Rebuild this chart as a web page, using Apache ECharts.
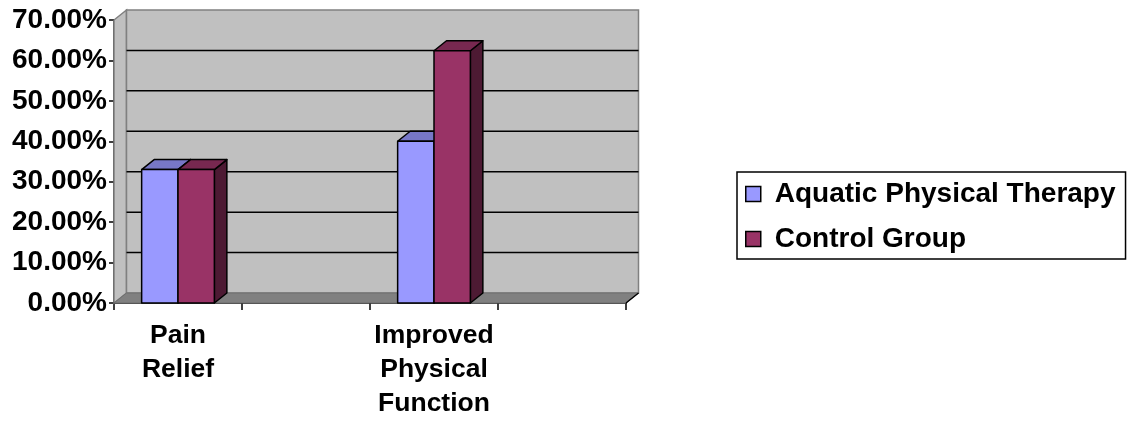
<!DOCTYPE html>
<html>
<head>
<meta charset="utf-8">
<style>
  html, body { margin: 0; padding: 0; background: #ffffff; }
  #chart { width: 1134px; height: 421px; }
</style>
<script src="https://cdn.jsdelivr.net/npm/echarts@6/dist/echarts.min.js"></script>
</head>
<body>
<div id="chart"></div>
<script>
// Categories (blank slots keep the spacing of the original worksheet)
const categories = ['Pain Relief', '', 'Improved Physical Function', ''];
const seriesNames = ['Aquatic Physical Therapy', 'Control Group'];
const aquatic = [0.33, '-', 0.40, '-'];
const control = [0.33, '-', 0.624, '-'];
const gridValues = [0.1, 0.2, 0.3, 0.4, 0.5, 0.6];

const FONT = '"Liberation Sans", Arial, sans-serif';
const DX = 12.5;   // depth offset to the right
const DY = 10;     // depth offset upward
const BAR_FRAC = 0.284;

const faces = [
  { front: '#9999FF', top: '#7777C7', side: '#4D4D80' },
  { front: '#993366', top: '#772850', side: '#4D1A33' }
];

function walls(params, api) {
  const cs = params.coordSys;
  const x0 = cs.x, x1 = cs.x + cs.width, y0 = cs.y, y1 = cs.y + cs.height;
  const children = [
    { type: 'polygon', shape: { points: [[x0, y0], [x0 + DX, y0 - DY], [x0 + DX, y1 - DY], [x0, y1]] },
      style: { fill: '#C0C0C0', stroke: '#808080', lineWidth: 1.5 } },
    { type: 'rect', shape: { x: x0 + DX, y: y0 - DY, width: cs.width, height: cs.height },
      style: { fill: '#C0C0C0', stroke: '#808080', lineWidth: 1.5 } },
    { type: 'polygon', shape: { points: [[x0, y1], [x0 + DX, y1 - DY], [x1 + DX, y1 - DY], [x1, y1]] },
      style: { fill: '#808080', stroke: '#6e6e6e', lineWidth: 1 } }
  ];
  gridValues.forEach(function (v) {
    const y = api.coord([0, v])[1] - DY;
    children.push({ type: 'line', shape: { x1: x0 + DX, y1: y, x2: x1 + DX, y2: y },
      style: { stroke: '#000', lineWidth: 1.5 } });
  });
  children.push({ type: 'line', shape: { x1: x1, y1: y1, x2: x1 + DX, y2: y1 - DY },
    style: { stroke: '#000', lineWidth: 1.5 } });
  return { type: 'group', children: children };
}

function makeBar(seriesIdx) {
  return function (params, api) {
    const val = api.value(1);
    if (isNaN(val)) return null;
    const idx = api.value(0);
    const base = api.coord([idx, 0]);
    const top = api.coord([idx, val]);
    const bw = api.size([1, 0])[0] * BAR_FRAC;
    const xl = base[0] - bw + seriesIdx * bw;
    const xr = xl + bw;
    const yt = top[1], yb = base[1];
    const f = faces[seriesIdx];
    const st = { stroke: '#000', lineWidth: 1.5, lineJoin: 'round' };
    return {
      type: 'group',
      children: [
        { type: 'polygon', shape: { points: [[xr, yt], [xr + DX, yt - DY], [xr + DX, yb - DY], [xr, yb]] },
          style: Object.assign({ fill: f.side }, st) },
        { type: 'polygon', shape: { points: [[xl, yt], [xl + DX, yt - DY], [xr + DX, yt - DY], [xr, yt]] },
          style: Object.assign({ fill: f.top }, st) },
        { type: 'rect', shape: { x: xl, y: yt, width: bw, height: yb - yt },
          style: Object.assign({ fill: f.front }, st) }
      ]
    };
  };
}

function toData(arr) {
  return arr.map(function (v, i) { return [i, v]; });
}

const chart = echarts.init(document.getElementById('chart'), null, { renderer: 'canvas' });
chart.setOption({
  animation: false,
  backgroundColor: '#ffffff',
  grid: { left: 114, top: 20, width: 512, height: 286, containLabel: false },
  xAxis: {
    type: 'category',
    data: categories,
    axisLine: { lineStyle: { color: '#000', width: 1.5 } },
    axisTick: { show: true, length: 7, lineStyle: { color: '#000', width: 1.5 } },
    splitLine: { show: false },
    axisLabel: {
      interval: 0,
      margin: 16,
      color: '#000',
      fontFamily: FONT,
      fontWeight: 'bold',
      fontSize: 26.5,
      lineHeight: 34,
      formatter: function (v) { return v.split(' ').join('\n'); }
    }
  },
  yAxis: {
    type: 'value',
    min: 0,
    max: 0.7,
    interval: 0.1,
    axisLine: { show: true, lineStyle: { color: '#000', width: 1.5 } },
    axisTick: { show: true, length: 5, lineStyle: { color: '#000', width: 1.5 } },
    splitLine: { show: false },
    axisLabel: {
      margin: 7,
      color: '#000',
      fontFamily: FONT,
      fontWeight: 'bold',
      fontSize: 28,
      formatter: function (v) { return (v * 100).toFixed(2) + '%'; }
    }
  },
  legend: {
    orient: 'vertical',
    left: 737,
    top: 172,
    padding: [7, 10, 5, 8],
    itemGap: 15,
    itemWidth: 15,
    itemHeight: 15,
    icon: 'rect',
    borderColor: '#000',
    borderWidth: 1.5,
    textStyle: { color: '#000', fontFamily: FONT, fontWeight: 'bold', fontSize: 28, lineHeight: 30,
      padding: [0, 0, 0, 9] },
    data: [
      { name: seriesNames[0], itemStyle: { color: faces[0].front, borderColor: '#000', borderWidth: 1.5 } },
      { name: seriesNames[1], itemStyle: { color: faces[1].front, borderColor: '#000', borderWidth: 1.5 } }
    ]
  },
  series: [
    { type: 'custom', name: 'walls', silent: true, z: 1, renderItem: walls, data: [[0, 0]] },
    { type: 'custom', name: seriesNames[0], z: 2, renderItem: makeBar(0), data: toData(aquatic),
      itemStyle: { color: faces[0].front } },
    { type: 'custom', name: seriesNames[1], z: 3, renderItem: makeBar(1), data: toData(control),
      itemStyle: { color: faces[1].front } }
  ]
});
</script>
</body>
</html>
